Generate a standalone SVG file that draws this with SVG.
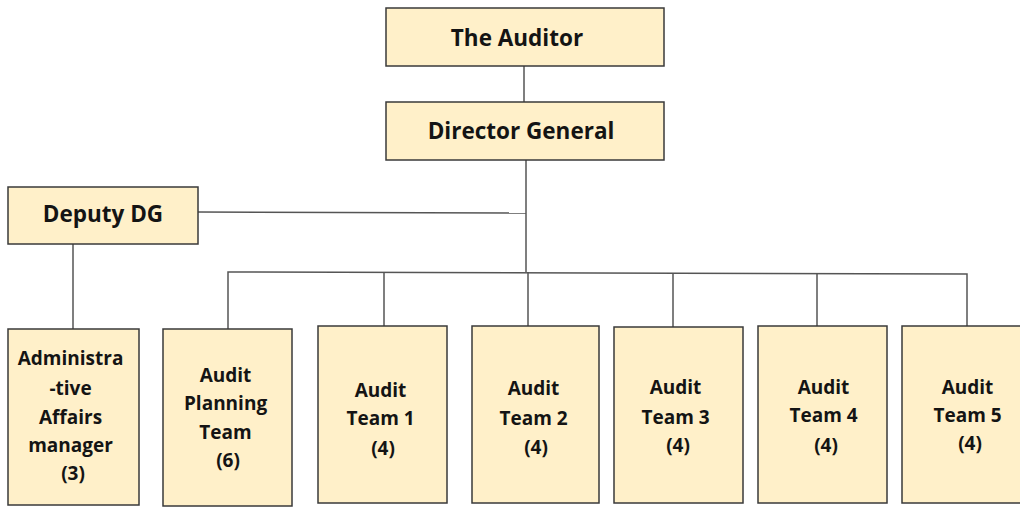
<svg xmlns="http://www.w3.org/2000/svg" width="1020" height="507" viewBox="0 0 1020 507">
  <style>
    .box { fill: #fff0c9; stroke: #3a3a3a; stroke-width: 1.5; }
    .lbl { font-family: "Open Sans", Lato, "Liberation Sans", sans-serif; font-weight: bold; fill: #141414; text-anchor: middle; }
    .big { font-size: 22.5px; }
    .small { font-size: 19px; }
    .wire { fill: none; stroke: #555; stroke-width: 1.5; }
  </style>
  <rect width="1020" height="507" fill="#ffffff"/>

  <!-- connectors -->
  <g id="connectors">
    <path class="wire" d="M524 66 V102"/>
    <path class="wire" d="M526 160 V272"/>
    <path class="wire" d="M198 212 L526 213"/>
    <path class="wire" d="M73 244 V329"/>
    <path class="wire" d="M228 329 V272 L967 274 V326"/>
    <path class="wire" d="M384 272 V326"/>
    <path class="wire" d="M528 272 V326"/>
    <path class="wire" d="M673 273 V327"/>
    <path class="wire" d="M817 273 V326"/>
  </g>

  <g id="auditor">
    <rect class="box" x="386" y="8" width="278" height="58"/>
    <text class="lbl big" x="517" y="46">The Auditor</text>
  </g>
  <g id="director-general">
    <rect class="box" x="386" y="102" width="278" height="58"/>
    <text class="lbl big" x="521" y="139">Director General</text>
  </g>
  <g id="deputy-dg">
    <rect class="box" x="8" y="187" width="190" height="57"/>
    <text class="lbl big" x="103" y="222">Deputy DG</text>
  </g>

  <g id="admin-affairs">
    <rect class="box" x="8" y="329" width="131" height="176"/>
    <text class="lbl small" x="73">
      <tspan x="73" y="365">Administra</tspan>
      <tspan x="73" y="395">-tive</tspan>
      <tspan x="73" y="424">Affairs</tspan>
      <tspan x="73" y="452">manager</tspan>
      <tspan x="73" y="480">(3)</tspan>
    </text>
  </g>
  <g id="audit-planning">
    <rect class="box" x="163" y="329" width="129" height="177"/>
    <text class="lbl small" x="228">
      <tspan x="228" y="382">Audit</tspan>
      <tspan x="228" y="410">Planning</tspan>
      <tspan x="228" y="439">Team</tspan>
      <tspan x="228" y="467">(6)</tspan>
    </text>
  </g>
  <g id="audit-team-1">
    <rect class="box" x="318" y="326" width="129" height="177"/>
    <text class="lbl small" x="383">
      <tspan x="383" y="397">Audit</tspan>
      <tspan x="383" y="425">Team 1</tspan>
      <tspan x="383" y="455">(4)</tspan>
    </text>
  </g>
  <g id="audit-team-2">
    <rect class="box" x="472" y="326" width="127" height="177"/>
    <text class="lbl small" x="536">
      <tspan x="536" y="395">Audit</tspan>
      <tspan x="536" y="425">Team 2</tspan>
      <tspan x="536" y="454">(4)</tspan>
    </text>
  </g>
  <g id="audit-team-3">
    <rect class="box" x="614" y="327" width="129" height="176"/>
    <text class="lbl small" x="678">
      <tspan x="678" y="394">Audit</tspan>
      <tspan x="678" y="424">Team 3</tspan>
      <tspan x="678" y="452">(4)</tspan>
    </text>
  </g>
  <g id="audit-team-4">
    <rect class="box" x="758" y="326" width="129" height="177"/>
    <text class="lbl small" x="826">
      <tspan x="826" y="394">Audit</tspan>
      <tspan x="826" y="422">Team 4</tspan>
      <tspan x="826" y="452">(4)</tspan>
    </text>
  </g>
  <g id="audit-team-5">
    <rect class="box" x="902" y="326" width="125" height="177"/>
    <text class="lbl small" x="970">
      <tspan x="970" y="394">Audit</tspan>
      <tspan x="970" y="422">Team 5</tspan>
      <tspan x="970" y="450">(4)</tspan>
    </text>
  </g>
</svg>
